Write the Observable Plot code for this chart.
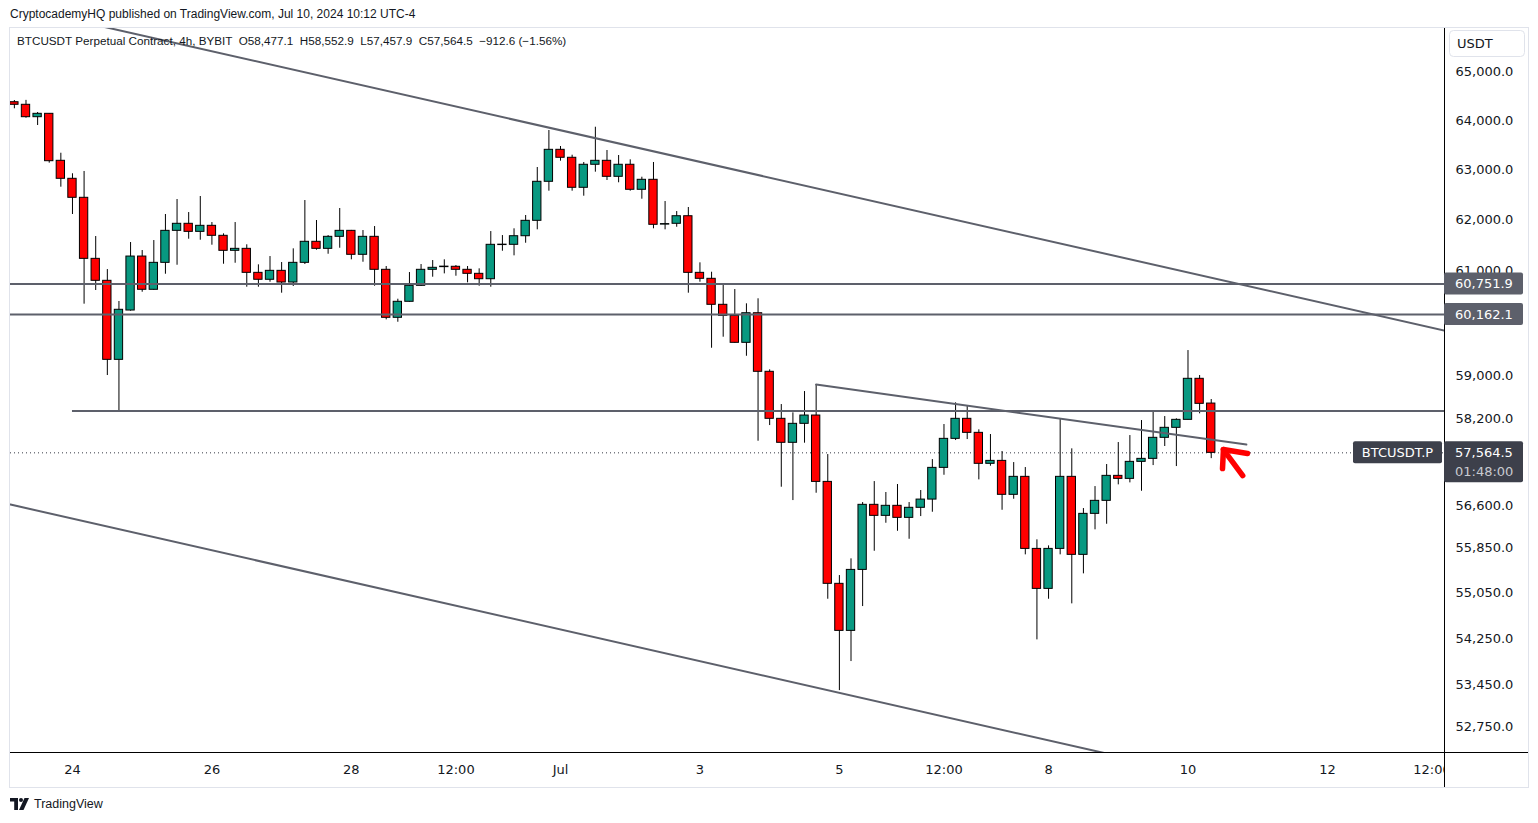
<!DOCTYPE html>
<html>
<head>
<meta charset="utf-8">
<script src="https://cdn.jsdelivr.net/npm/d3@7"></script>
<script src="https://cdn.jsdelivr.net/npm/@observablehq/plot@0.6"></script>
<style>
html, body { margin: 0; padding: 0; background: #ffffff; }
body { width: 1538px; height: 823px; position: relative; overflow: hidden; font-family: "Liberation Sans", Arial, sans-serif; color: #131722; }
#header { position: absolute; left: 10px; top: 7px; font-size: 12px; white-space: pre; }
#frame { position: absolute; left: 9px; top: 27px; width: 1520px; height: 761px; border: 1px solid #e0e3eb; box-sizing: border-box; }
#chart { position: absolute; left: 0; top: 28px; }
#legend { position: absolute; left: 17px; top: 34px; font-size: 11.7px; white-space: pre; color: #131722; }
#footer { position: absolute; left: 10px; top: 797px; font-size: 12.5px; display: flex; align-items: center; gap: 4px; color: #131722; }
</style>
</head>
<body>
<div id="header">CryptocademyHQ published on TradingView.com, Jul 10, 2024 10:12 UTC-4</div>
<div id="frame"></div>
<div id="chart"></div>
<div id="legend">BTCUSDT Perpetual Contract, 4h, BYBIT  O58,477.1  H58,552.9  L57,457.9  C57,564.5  −912.6 (−1.56%)</div>
<div id="footer"><svg width="20" height="12" viewBox="0 0 20 12"><path d="M0 0H8V12H4.2V3.6H0Z" fill="#131722"/><circle cx="11" cy="2" r="2" fill="#131722"/><path d="M14.5 0H19L13.5 12H9Z" fill="#131722"/></svg><span>TradingView</span></div>
<script>
// ---- Data: BTCUSDT Perpetual, 4h bars (clock = UTC-4), first bar Jun 23 04:00 ----
const firstBar = "2024-06-23T04:00";
const barHours = 4;
const opens = [
  64382, 64329, 64075, 64144, 63189,
  62827, 62447, 61242, 60814, 59299, 60240, 61287, 60640, 61164, 61792,
  61931, 61772, 61891, 61694, 61399, 61438, 60969, 60834, 61008, 60781,
  61164, 61576, 61438, 61674, 61792, 61321, 61674, 61028, 60100, 60408,
  60717, 61028, 61080, 61087, 61028, 60950, 60845, 61512, 61517, 61686,
  61990, 62767, 63411, 63250, 62647, 63109, 63189, 62867, 63109, 62607,
  62807, 61915, 61931, 62081, 60969, 60853, 60350, 60138, 59622, 60188,
  59073, 58193, 57749, 58100, 58254, 57033, 55207, 54384, 55453, 56617,
  56418, 56599, 56382, 56563, 56712, 57289, 57822, 58193, 57933, 57363,
  57417, 56798, 57125, 55826, 55118, 55826, 57125, 55720, 56454, 56689,
  57143, 57088, 57399, 57454, 57841, 58026, 58174, 58941, 58477.1
];
const highs = [
  64417, 64420, 64171, 64150, 63342,
  62928, 62974, 61680, 61033, 60414, 61562, 61405, 61601, 62115, 62413,
  62154, 62473, 61956, 61733, 61956, 61517, 61125, 61287, 61170, 61438,
  62393, 61996, 61699, 62234, 61800, 61798, 61877, 61092, 60458, 60975,
  61131, 61209, 61223, 61111, 61092, 61047, 61778, 61699, 61832, 62095,
  63054, 63803, 63478, 63302, 63155, 63870, 63397, 63296, 63209, 62859,
  63155, 62373, 62174, 62254, 61164, 60981, 60756, 60645, 60369, 60466,
  59110, 58459, 58304, 58702, 58834, 57533, 55353, 55649, 56658, 57039,
  56840, 56985, 56658, 56876, 57441, 58087, 58491, 58440, 57989, 57902,
  57589, 57386, 57295, 55988, 55880, 58180, 57638, 56550, 56948, 57350,
  57754, 57883, 58161, 58315, 58235, 58193, 59475, 59003, 58552.9
];
const lows = [
  64247, 64054, 63905, 63141, 62659,
  62115, 60362, 60626, 59003, 58334, 60227, 60593, 60630, 60942, 61117,
  61627, 61607, 61509, 61137, 61156, 60690, 60690, 60787, 60574, 60704,
  61131, 61411, 61332, 61450, 61223, 61176, 60709, 60061, 60015, 60400,
  60704, 60884, 60949, 60903, 60775, 60709, 60690, 61391, 61301, 61548,
  61812, 62579, 63181, 62579, 62479, 62960, 62793, 62747, 62579, 62419,
  61832, 61812, 61863, 60574, 60787, 59519, 59729, 59615, 59367, 57778,
  58068, 56936, 56694, 57742, 56827, 54936, 53357, 53854, 54808, 55784,
  56285, 56141, 55998, 56405, 56483, 57154, 57791, 57809, 57070, 57319,
  56519, 56718, 55720, 54228, 54936, 55720, 54855, 55383, 56167, 56267,
  56979, 57015, 56863, 57331, 57681, 57313, 58174, 58286, 57457.9
];
const closes = [
  64329, 64075, 64144, 63181, 62827,
  62447, 61242, 60814, 59299, 60254, 61287, 60640, 61164, 61792, 61931,
  61772, 61891, 61694, 61399, 61438, 60969, 60834, 61008, 60781, 61164,
  61576, 61438, 61674, 61792, 61321, 61674, 61028, 60100, 60408, 60717,
  61028, 61067, 61090, 61028, 60950, 60845, 61517, 61520, 61686, 61990,
  62767, 63411, 63250, 62647, 63109, 63189, 62867, 63109, 62607, 62807,
  61911, 61925, 62081, 60969, 60853, 60350, 60138, 59622, 60188, 59073,
  58193, 57749, 58100, 58254, 57033, 55207, 54384, 55453, 56617, 56418,
  56599, 56382, 56563, 56712, 57289, 57822, 58193, 57933, 57363, 57417,
  56798, 57125, 55826, 55118, 55826, 57125, 55720, 56454, 56689, 57143,
  57088, 57399, 57454, 57841, 58026, 58174, 58941, 58472, 57564.5
];

// Visible window (left / right edges of the pane)
const viewStart = "2024-06-23T02:40";
const viewEnd = "2024-07-13T16:18";
const priceMin = 52313, priceMax = 65915;

// Drawings
const upperChannel = [{t: "2024-06-23T02:40", price: 66397}, {t: "2024-07-13T16:18", price: 59856}];
const lowerChannel = [{t: "2024-06-23T02:40", price: 56622}, {t: "2024-07-13T16:18", price: 51030}];
const shortTrend = [{t: "2024-07-04T16:00", price: 58833}, {t: "2024-07-10T20:06", price: 57717}];
const levels = [
  {price: 60751.9, from: "2024-06-23T02:40", label: true},
  {price: 60162.1, from: "2024-06-23T02:40", label: true},
  {price: 58340, from: "2024-06-24T00:00", label: false}
];
const lastPrice = 57564.5;
const countdown = "01:48:00";
const symbolLabel = "BTCUSDT.P";
const arrowHead = [{t: "2024-07-10T11:53", price: 57277}, {t: "2024-07-10T12:12", price: 57625}, {t: "2024-07-10T20:29", price: 57552}];
const arrowShaft = [{t: "2024-07-10T18:50", price: 57149}, {t: "2024-07-10T12:12", price: 57625}];

// Axes
const xTickTimes = ["2024-06-24T00:00", "2024-06-26T00:00", "2024-06-28T00:00", "2024-06-29T12:00", "2024-07-01T00:00", "2024-07-03T00:00", "2024-07-05T00:00", "2024-07-06T12:00", "2024-07-08T00:00", "2024-07-10T00:00", "2024-07-12T00:00", "2024-07-13T12:00"];
const xTickLabels = ["24", "26", "28", "12:00", "Jul", "3", "5", "12:00", "8", "10", "12", "12:00"];
const yTicks = [65000, 64000, 63000, 62000, 61000, 59000, 58200, 56600, 55850, 55050, 54250, 53450, 52750];

// ---- Build ----
const T = s => new Date(s + "Z");
const t0 = +T(firstBar);
const candles = opens.map((o, i) => ({
  t: new Date(t0 + i * barHours * 3600e3),
  open: o, high: highs[i], low: lows[i], close: closes[i]
}));
const halfBody = 86 * 60e3; // body half-width in ms
const asPts = arr => arr.map(d => ({t: T(d.t), price: d.price}));
const tickDates = xTickTimes.map(T);
const tickMap = new Map(tickDates.map((d, i) => [+d, xTickLabels[i]]));

const UP = "#089981", DOWN = "#ff0000", LINE = "#5d606b", DARK = "#3d404b";
const axisFont = "DejaVu Sans, Verdana, sans-serif";

const chart = Plot.plot({
  width: 1538,
  height: 760,
  marginLeft: 10,
  marginRight: 94,
  marginTop: 0,
  marginBottom: 36,
  style: {background: "transparent", fontFamily: axisFont, fontSize: "13px", color: "#131722", overflow: "visible"},
  x: {type: "utc", domain: [T(viewStart), T(viewEnd)]},
  y: {type: "log", domain: [priceMin, priceMax]},
  marks: [
    Plot.ruleY([lastPrice], {stroke: "#363a45", strokeWidth: 1, strokeDasharray: "1,3"}),
    Plot.ruleX(candles, {x: "t", y1: "low", y2: "high", stroke: "#000", strokeWidth: 1, clip: true}),
    Plot.rect(candles, {
      x1: d => new Date(+d.t - halfBody),
      x2: d => new Date(+d.t + halfBody),
      y1: "open", y2: "close",
      fill: d => d.close >= d.open ? UP : DOWN,
      stroke: "#000", strokeWidth: 1, clip: true
    }),
    Plot.ruleY(levels, {y: "price", x1: d => T(d.from), x2: T(viewEnd), stroke: LINE, strokeWidth: 2}),
    Plot.line(asPts(upperChannel), {x: "t", y: "price", stroke: LINE, strokeWidth: 2, clip: true}),
    Plot.line(asPts(lowerChannel), {x: "t", y: "price", stroke: LINE, strokeWidth: 2, clip: true}),
    Plot.line(asPts(shortTrend), {x: "t", y: "price", stroke: LINE, strokeWidth: 2, clip: true}),
    Plot.line(asPts(arrowHead), {x: "t", y: "price", stroke: "#ff0000", strokeWidth: 5.5, strokeLinecap: "round", strokeLinejoin: "round"}),
    Plot.line(asPts(arrowShaft), {x: "t", y: "price", stroke: "#ff0000", strokeWidth: 5.5, strokeLinecap: "round"}),
    Plot.axisX({ticks: tickDates, tickFormat: d => tickMap.get(+d), tickSize: 0, tickPadding: 12, fontSize: 13, fill: "#131722", label: null}),
    Plot.axisY({ticks: yTicks, anchor: "right", tickFormat: d3.format(",.1f"), tickSize: 0, tickPadding: 11, fontSize: 13, fill: "#131722", label: null})
  ]
});
document.getElementById("chart").appendChild(chart);

// ---- Price-scale decorations positioned through Plot's own y scale ----
const svg = d3.select(chart);
const ys = chart.scale("y");
const W = 1538, H = 760, right = W - 94, bottom = H - 36;

// clip x tick labels at the price scale
svg.append("defs").append("clipPath").attr("id", "xclip")
  .append("rect").attr("x", 0).attr("y", 0).attr("width", right).attr("height", H);
svg.selectAll('g[aria-label="x-axis tick label"]').attr("clip-path", "url(#xclip)");

// scale borders
svg.append("line").attr("x1", 10).attr("x2", 1528).attr("y1", bottom + 0.5).attr("y2", bottom + 0.5).attr("stroke", "#000");
svg.append("line").attr("x1", right + 0.5).attr("x2", right + 0.5).attr("y1", 0).attr("y2", H - 1).attr("stroke", "#000");

const g = svg.append("g").attr("font-family", axisFont).attr("font-size", 13).attr("text-anchor", "start");
// currency box
g.append("rect").attr("x", 1449.5).attr("y", 2.5).attr("width", 75).attr("height", 26).attr("rx", 4)
  .attr("fill", "#fff").attr("stroke", "#e0e3eb");
g.append("text").attr("x", 1457).attr("y", 15.5).attr("dy", "0.35em").attr("fill", "#131722").text("USDT");

// level labels
levels.filter(d => d.label).forEach(d => {
  const py = ys.apply(d.price);
  g.append("rect").attr("x", right).attr("y", py - 11).attr("width", 79).attr("height", 22).attr("rx", 2).attr("fill", LINE);
  g.append("text").attr("x", right + 11).attr("y", py).attr("dy", "0.35em").attr("fill", "#fff").text(d3.format(",.1f")(d.price));
});

// last price label + countdown
const lp = ys.apply(lastPrice);
g.append("rect").attr("x", right).attr("y", lp - 11).attr("width", 79).attr("height", 41).attr("rx", 2).attr("fill", DARK);
g.append("text").attr("x", right + 11).attr("y", lp).attr("dy", "0.35em").attr("fill", "#fff").text(d3.format(",.1f")(lastPrice));
g.append("text").attr("x", right + 11).attr("y", lp + 19).attr("dy", "0.35em").attr("fill", "#c8cad0").text(countdown);
// symbol label in pane
g.append("rect").attr("x", 1353).attr("y", lp - 11).attr("width", 89).attr("height", 22).attr("rx", 2).attr("fill", DARK);
g.append("text").attr("x", 1397.5).attr("y", lp).attr("dy", "0.35em").attr("text-anchor", "middle").attr("fill", "#fff").text(symbolLabel);
</script>
</body>
</html>
